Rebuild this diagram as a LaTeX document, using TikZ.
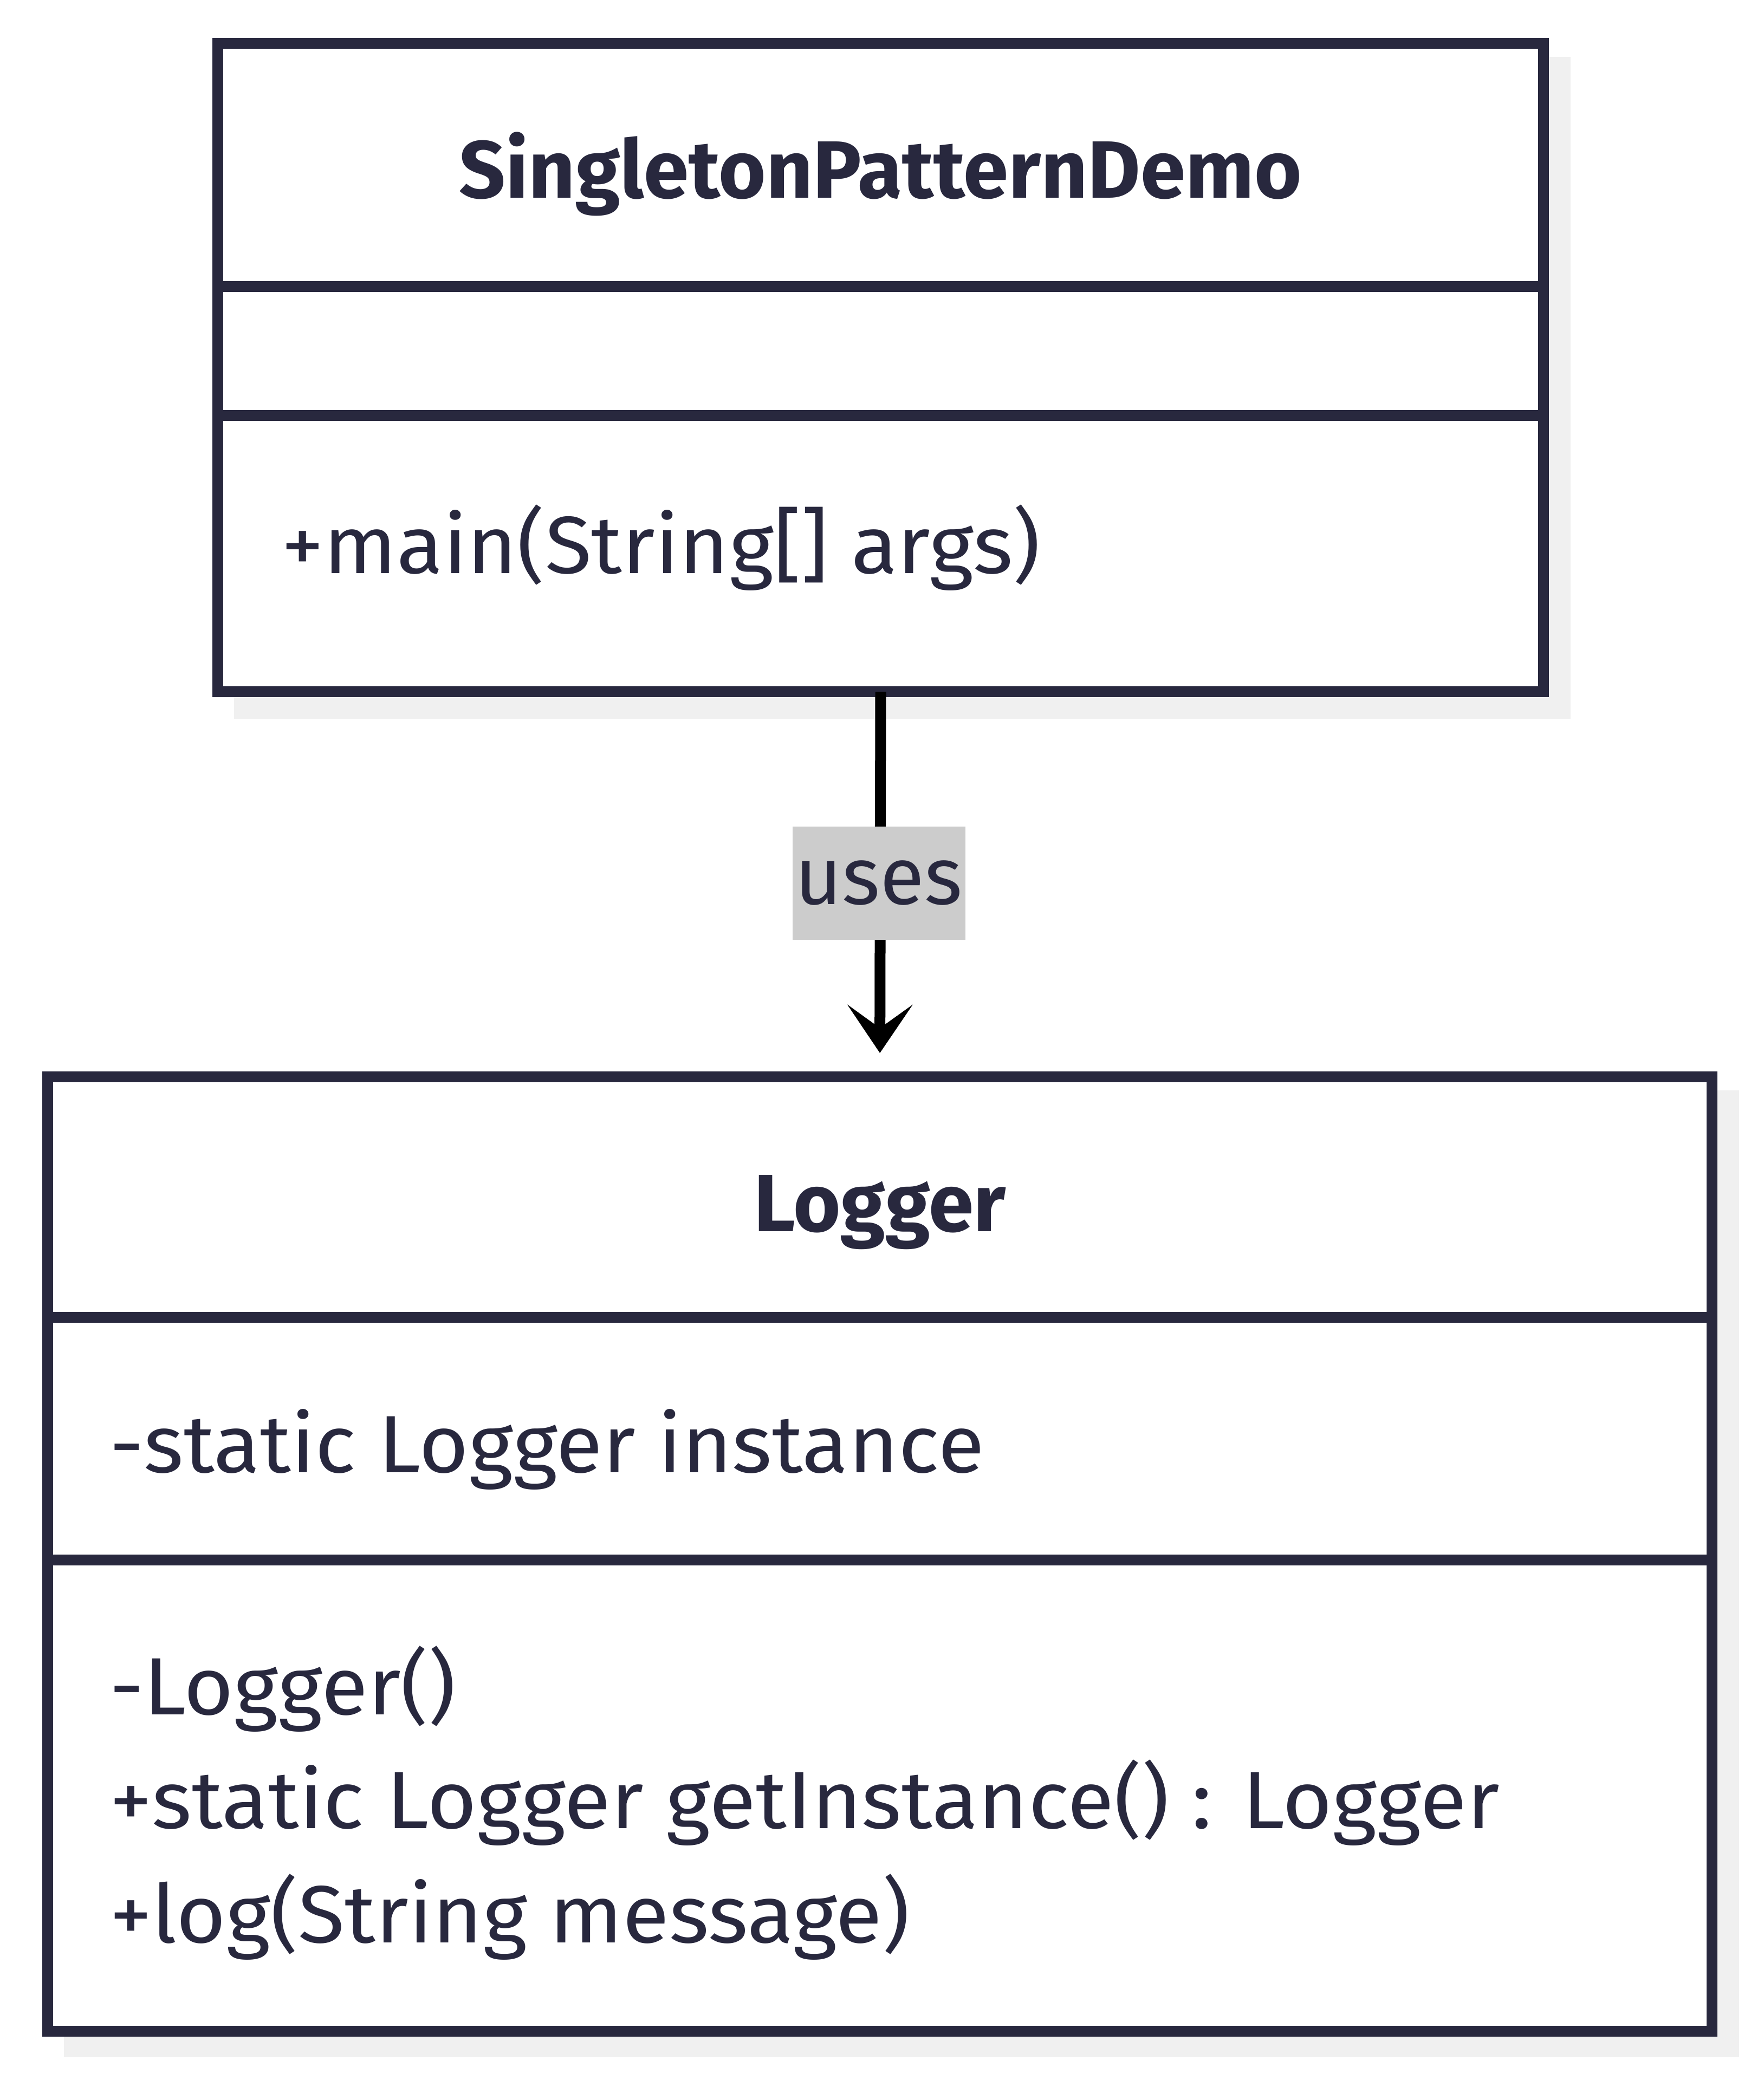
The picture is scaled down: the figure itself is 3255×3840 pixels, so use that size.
\documentclass[tikz,border=0pt]{standalone}
\usepackage{fontspec}
\setmainfont{Fira Sans}
\newfontfamily\memberfont[FakeStretch=1.05]{Fira Sans}
\usetikzlibrary{arrows.meta}
\definecolor{ink}{HTML}{28283E}
\definecolor{shadowgray}{HTML}{F0F0F0}
\definecolor{labelgray}{HTML}{CCCCCC}
\tikzset{
  classbox/.style={draw=ink, line width=4pt, fill=white, rectangle, inner sep=0pt, outer sep=0pt},
  divider/.style={draw=ink, line width=4pt},
  member/.style={anchor=base west, inner sep=0pt, text=ink, font=\memberfont\fontsize{30pt}{36pt}\selectfont},
  classtitle/.style={anchor=base, inner sep=0pt, text=ink, font=\fontsize{30pt}{36pt}\selectfont\bfseries},
  edgelabel/.style={fill=labelgray, inner sep=0pt, minimum width=63.8pt, minimum height=41.8pt, text=ink, font=\fontsize{30pt}{36pt}\selectfont},
  uses arrow/.style={draw=black, line width=4pt, -{Stealth[length=17.8pt,width=24pt,inset=8.6pt]}}
}
\begin{document}
\begin{tikzpicture}[x=0.2pt,y=-0.2pt]
\useasboundingbox (0,0) rectangle (3255,3840);
% shadows
\fill[shadowgray] (432,105) rectangle (2899,1327);
\fill[shadowgray] (118,2013) rectangle (3210,3798);
% class boxes
\node[classbox, minimum width=489.4pt, minimum height=239.4pt] (demo) at (1625.5,678.5) {};
\node[classbox, minimum width=614.4pt, minimum height=352.4pt] (logger) at (1624,2869) {};
% dividers
\draw[divider] (402,529) -- (2849,529);
\draw[divider] (402,767) -- (2849,767);
\draw[divider] (88,2432) -- (3160,2432);
\draw[divider] (88,2880) -- (3160,2880);
% texts
\node[classtitle] (demotitle) at (1625,365) {SingletonPatternDemo};
\node[member] (demomain) at (518,1058) {+main(String[] args)};
\node[classtitle] (loggertitle) at (1624,2273) {Logger};
\node[member] (loggerattr) at (201,2718) {-static Logger instance};
\node[member] (loggerm1) at (201,3165) {-Logger()};
\node[member] (loggerm2) at (201,3375) {+static Logger getInstance() : Logger};
\node[member] (loggerm3) at (201,3586) {+log(String message)};
% connector
\draw[uses arrow, shorten >=8.8pt] (demo.south) -- (logger.north);
\node[edgelabel] (uses) at (1622,1630) {uses};
\end{tikzpicture}
\end{document}
